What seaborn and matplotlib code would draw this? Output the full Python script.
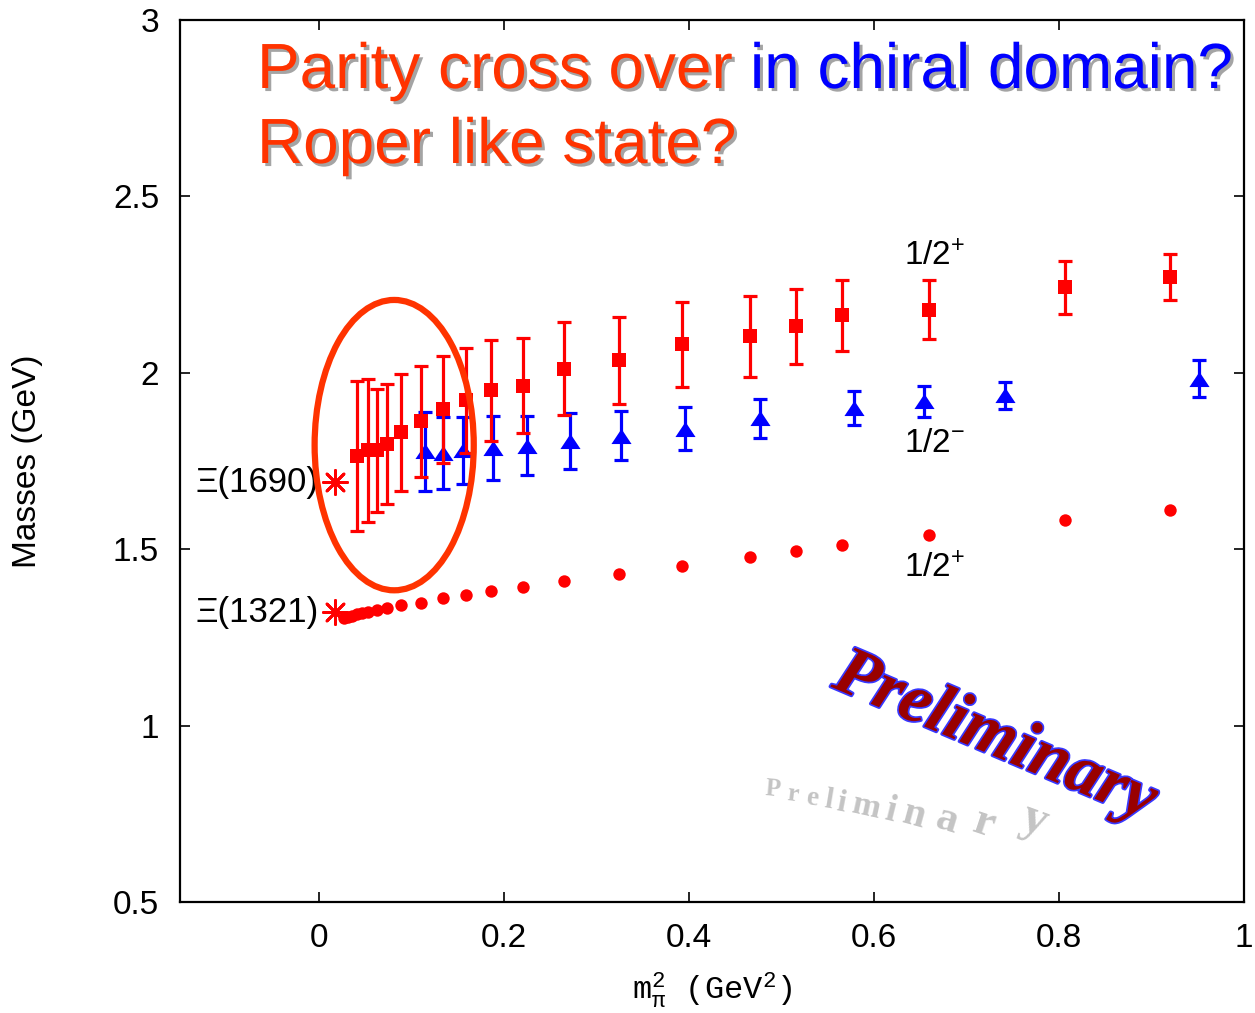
import numpy as np
import pandas as pd
import matplotlib
matplotlib.use("Agg")
import matplotlib.pyplot as plt
import seaborn as sns
from matplotlib import patheffects as pe
from matplotlib.patches import Ellipse
from matplotlib.path import Path

# ---------------- data ----------------
# ground state 1/2+ (red circles)
gnd_x = [0.027, 0.032, 0.036, 0.041, 0.047, 0.053, 0.063, 0.074, 0.089, 0.111, 0.134,
         0.159, 0.186, 0.221, 0.265, 0.324, 0.393, 0.466, 0.516, 0.565, 0.660, 0.806, 0.920]
gnd_m = [1.304, 1.308, 1.312, 1.316, 1.319, 1.323, 1.329, 1.333, 1.342, 1.348, 1.361,
         1.370, 1.382, 1.392, 1.410, 1.429, 1.453, 1.479, 1.496, 1.512, 1.541, 1.582, 1.611]

# excited 1/2+ (red squares with errors)
exc_x = [0.041, 0.053, 0.063, 0.074, 0.089, 0.111, 0.134, 0.159, 0.186, 0.221, 0.265,
         0.324, 0.393, 0.466, 0.516, 0.565, 0.660, 0.806, 0.920]
exc_m = [1.765, 1.780, 1.780, 1.799, 1.831, 1.862, 1.896, 1.922, 1.950, 1.964, 2.012,
         2.035, 2.081, 2.103, 2.132, 2.163, 2.179, 2.242, 2.271]
exc_err = [0.213, 0.202, 0.175, 0.170, 0.167, 0.158, 0.152, 0.149, 0.143, 0.135, 0.133,
           0.124, 0.120, 0.114, 0.106, 0.100, 0.083, 0.074, 0.066]

# 1/2- (blue triangles with errors)
neg_x = [0.115, 0.134, 0.156, 0.188, 0.225, 0.271, 0.327, 0.396, 0.477, 0.578, 0.654, 0.742, 0.951]
neg_m = [1.777, 1.773, 1.780, 1.787, 1.793, 1.807, 1.822, 1.842, 1.871, 1.900, 1.920, 1.936, 1.983]
neg_err = [0.111, 0.103, 0.096, 0.090, 0.084, 0.079, 0.069, 0.061, 0.055, 0.048, 0.044, 0.038, 0.052]

# physical states
phys_x = [0.0175, 0.0175]
phys_m = [1.690, 1.321]
phys_labels = ["Ξ(1690)", "Ξ(1321)"]

x_ticks = [0, 0.2, 0.4, 0.6, 0.8, 1]
x_ticklabels = ["0", "0.2", "0.4", "0.6", "0.8", "1"]
y_ticks = [0.5, 1, 1.5, 2, 2.5, 3]
y_ticklabels = ["0.5", "1", "1.5", "2", "2.5", "3"]

parity_labels = ["1/2$^{+}$", "1/2$^{-}$", "1/2$^{+}$"]
parity_label_pos = [(0.632, 2.305), (0.632, 1.776), (0.632, 1.419)]

# ---------------- style ----------------
sns.set_theme(style="ticks")
plt.rcParams['font.family'] = ['Liberation Sans', 'DejaVu Sans']
plt.rcParams['mathtext.default'] = 'regular'
for key in ['axes.edgecolor', 'xtick.color', 'ytick.color', 'text.color',
            'axes.labelcolor', 'xtick.labelcolor', 'ytick.labelcolor']:
    plt.rcParams[key] = 'black'

W, H = 1255, 1013
fig = plt.figure(figsize=(W / 100, H / 100), dpi=100)
ax = fig.add_axes([180 / W, 1 - 902 / H, (1244 - 180) / W, (902 - 20) / H])

df_gnd = pd.DataFrame({"x": gnd_x, "m": gnd_m})
df_exc = pd.DataFrame({"x": exc_x, "m": exc_m, "err": exc_err})
df_neg = pd.DataFrame({"x": neg_x, "m": neg_m, "err": neg_err})
df_phys = pd.DataFrame({"x": phys_x, "m": phys_m})

tri = Path([(0, 0.75), (-1, -0.75), (1, -0.75), (0, 0.75)],
           [Path.MOVETO, Path.LINETO, Path.LINETO, Path.CLOSEPOLY])

# blue 1/2-
ax.errorbar(df_neg["x"], df_neg["m"], yerr=df_neg["err"], fmt='none', ecolor='#0000ff',
            elinewidth=2.3, capsize=5, capthick=2.3, zorder=2)
sns.scatterplot(data=df_neg, x="x", y="m", marker=tri, color='#0000ff', s=210,
                linewidth=0, ax=ax, zorder=3)

# red excited 1/2+
ax.errorbar(df_exc["x"], df_exc["m"], yerr=df_exc["err"], fmt='none', ecolor='#ff0000',
            elinewidth=2.3, capsize=5, capthick=2.3, zorder=4)
sns.scatterplot(data=df_exc, x="x", y="m", marker='s', color='#ff0000', s=90,
                linewidth=0, ax=ax, zorder=5)

# red ground 1/2+
sns.scatterplot(data=df_gnd, x="x", y="m", marker='o', color='#ff0000', s=80,
                linewidth=0, ax=ax, zorder=5)

# physical stars
sns.scatterplot(data=df_phys, x="x", y="m", marker=(8, 2, 0), color='#ff0000', s=300,
                linewidth=2.0, ax=ax, zorder=6)
for xx, mm, lab in zip(phys_x, phys_m, phys_labels):
    ax.text(-0.0005, mm, lab, ha='right', va='center', fontsize=25, zorder=7)

# ellipse
ax.add_patch(Ellipse((0.0815, 1.795), 0.172, 0.823, fill=False, ec='#ff3300', lw=4.5, zorder=8))

# parity labels
for lab, (px, py) in zip(parity_labels, parity_label_pos):
    ax.text(px, py, lab, ha='left', va='baseline', fontsize=24)

# axes
ax.set_xlim(-0.15, 1.0)
ax.set_ylim(0.5, 3.0)
ax.set_xticks(x_ticks)
ax.set_xticklabels(x_ticklabels)
ax.set_yticks(y_ticks)
ax.set_yticklabels(y_ticklabels)
ax.tick_params(direction='in', length=7, width=1.2, top=True, right=True,
               labelsize=24, pad=15)
for sp in ax.spines.values():
    sp.set_linewidth(1.6)
    sp.set_color('black')
ax.set_xlabel(r'm$_{\pi}^{2}$ (GeV$^{2}$)', fontfamily=['Liberation Mono', 'DejaVu Sans Mono'],
              fontsize=23, labelpad=12)
ax.set_ylabel('Masses (GeV)', fontsize=24, labelpad=50)

# title texts
shadow = [pe.withSimplePatchShadow(offset=(2.2, -2.2), shadow_rgbFace='#9a9a9a', alpha=0.9)]
fig.text(257 / W, 1 - 88 / H, "Parity cross over", fontsize=46, color='#ff3300',
         ha='left', va='baseline', path_effects=shadow)
fig.text(750 / W, 1 - 88 / H, "in chiral domain?", fontsize=46, color='#0000ff',
         ha='left', va='baseline', path_effects=shadow)
fig.text(257 / W, 1 - 163 / H, "Roper like state?", fontsize=46, color='#ff3300',
         ha='left', va='baseline', path_effects=shadow)

# watermark
fig.text(995 / W, 1 - 738 / H, "Preliminary", fontsize=50, color='#990000',
         fontfamily='Liberation Serif', fontweight='bold', fontstyle='italic',
         rotation=-23, rotation_mode='anchor', ha='center', va='center',
         path_effects=[pe.withStroke(linewidth=2.5, foreground='#3838ff')])

# faint reflection, letter by letter
refl = "Preliminary"
lx = [772, 792, 811, 827, 840, 864, 888, 912, 944, 980, 1030]
ly = [796, 801, 805, 808, 811, 815, 820, 825, 830, 834, 832]
for i, ch in enumerate(refl):
    f = i / (len(refl) - 1)
    fig.text(lx[i] / W, 1 - ly[i] / H, ch, fontsize=18 + 18 * f ** 1.5, color='#c4c4c4',
             fontfamily='Liberation Serif', fontweight='bold',
             rotation=-5 - 15 * f, rotation_mode='anchor', ha='center', va='baseline')

fig.savefig("out.png", dpi=100)
